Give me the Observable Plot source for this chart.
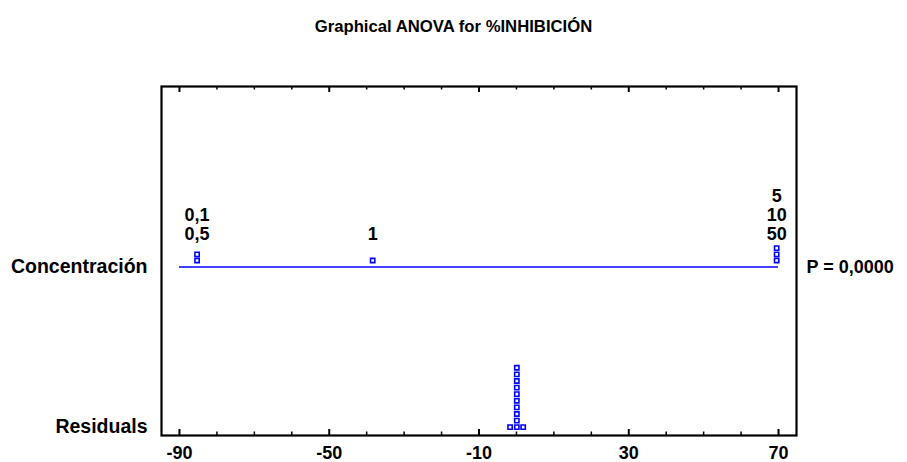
<!DOCTYPE html>
<html><head><meta charset="utf-8">
<script src="https://cdn.jsdelivr.net/npm/d3@7"></script>
<script src="https://cdn.jsdelivr.net/npm/@observablehq/plot@0.6"></script>
<style>
body{margin:0;background:#fff;}
#wrap{position:relative;width:907px;height:462px;font-family:"Liberation Sans",Arial,sans-serif;}
#title{position:absolute;top:17px;left:0;width:907px;text-align:center;font-weight:bold;font-size:16.7px;color:#000;}
#chart{position:absolute;top:0;left:0;}
</style></head><body>
<div id="wrap"><div id="chart"></div><div id="title"></div></div>
<script>
const chartTitle = "Graphical ANOVA for %INHIBICIÓN";
const factorName = "Concentración";
const residualName = "Residuals";
const pLabel = "P = 0,0000";
const levels = ["0,1", "0,5", "1", "5", "10", "50"];
const effects = [-85.3, -85.3, -38.4, 69.5, 69.5, 69.5];
const residuals = [-1.7, 0.1, 0.1, 0.1, 0.1, 0.1, 0.1, 0.1, 0.1, 0.1, 0.1, 1.8];
const xTicks = [-90, -50, -10, 30, 70];
const xMinorTicks = [-80, -70, -60, -40, -30, -20, 0, 10, 20, 40, 50, 60];

document.getElementById("title").textContent = chartTitle;

const W = 907, H = 462, mT = 86, mB = 27, mL = 161, mR = 111;
const plotH = H - mT - mB;
const blue = "#0000ff";

// stack points that share a value (dot diagram)
function stack(values, row, names) {
  const counts = new Map();
  return values.map((v, i) => {
    const k = counts.get(v) || 0;
    counts.set(v, k + 1);
    return {x: v, row, level: k, name: names ? names[i] : null};
  });
}
const effPts = stack(effects, 1, levels);
const resPts = stack(residuals, 0, null);

// label groups above factor points (top to bottom in level order)
const groups = d3.groups(effPts, d => d.x).map(([x, arr]) => ({x, row: 1, text: arr.map(d => d.name).join("\n")}));

const dotStyle = {symbol: "square", r: 2.4, stroke: blue, strokeWidth: 1.6, fill: "white"};
const dotMarks = [];
for (const lv of d3.union(effPts.map(d => d.level))) {
  dotMarks.push(Plot.dot(effPts.filter(d => d.level === lv), {x: "x", y: "row", dy: -6.5 - lv * 6.2, ...dotStyle}));
}
for (const lv of d3.union(resPts.map(d => d.level))) {
  dotMarks.push(Plot.dot(resPts.filter(d => d.level === lv), {x: "x", y: "row", dy: -lv * 6.6, ...dotStyle}));
}

const chart = Plot.plot({
  width: W, height: H,
  marginTop: mT, marginBottom: mB, marginLeft: mL, marginRight: mR,
  style: {fontFamily: "'Liberation Sans', Arial, sans-serif", fontSize: "18px", fontWeight: "bold", background: "white", color: "black"},
  x: {domain: [-94.8, 74.8]},
  y: {domain: [-0.052, 2.127]},
  marks: [
    Plot.ruleY([1], {x1: xTicks[0], x2: xTicks[xTicks.length - 1], stroke: blue, strokeWidth: 1.7}),
    ...dotMarks,
    Plot.text(groups, {x: "x", y: "row", text: "text", lineAnchor: "bottom", dy: -27, lineHeight: 1.06, fontSize: 18, fontWeight: "bold", fill: "black"}),
    Plot.tickX(xTicks, {x: d => d, insetTop: plotH - 6, stroke: "black", strokeWidth: 2}),
    Plot.tickX(xTicks, {x: d => d, insetBottom: plotH - 6, stroke: "black", strokeWidth: 2}),
    Plot.tickX(xMinorTicks, {x: d => d, insetTop: plotH - 3.5, stroke: "black", strokeWidth: 1.5}),
    Plot.tickX(xMinorTicks, {x: d => d, insetBottom: plotH - 3.5, stroke: "black", strokeWidth: 1.5}),
    Plot.axisX(xTicks, {tickSize: 0, tickPadding: 11, tickFormat: d => String(d), label: null, fontSize: 18, fontWeight: "bold"}),
    Plot.axisY([0, 1], {anchor: "left", tickSize: 0, tickPadding: 14, tickFormat: d => d === 1 ? factorName : residualName, label: null, fontSize: 19.5, fontWeight: "bold"}),
    Plot.axisY([1], {anchor: "right", tickSize: 0, tickPadding: 10, tickFormat: () => pLabel, label: null, fontSize: 18, fontWeight: "bold"}),
    Plot.frame({stroke: "black", strokeWidth: 2.2})
  ]
});
document.getElementById("chart").appendChild(chart);
</script>
</body></html>
